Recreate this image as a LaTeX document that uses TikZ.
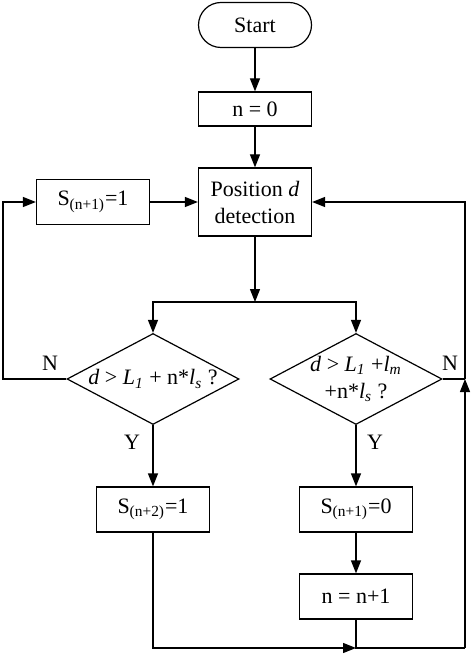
\documentclass[tikz,border=0pt]{standalone}
\usepackage{fontspec}
\setmainfont{Liberation Serif}
\usetikzlibrary{shapes.geometric,arrows.meta}

\begin{document}
\begin{tikzpicture}[x=0.5pt,y=-0.5pt]
        \tikzstyle{every node}=[font=\fontsize{11}{13.5}\selectfont,inner sep=0pt,align=center]
        \tikzstyle{proc}=[draw,line width=0.6pt,minimum width=56.5pt,minimum height=22.5pt]
        \tikzstyle{cond}=[draw,diamond,aspect=1.9,inner sep=-4pt,line width=0.6pt,minimum width=86pt,minimum height=45.5pt]
        \tikzstyle{flow}=[line width=0.6pt,-{Triangle[length=6.5pt,width=5pt]}]
        \tikzstyle{wire}=[line width=0.6pt]
        \useasboundingbox (0,0) rectangle (474,657);
        \node[draw,line width=0.6pt,rounded corners=11.25pt,minimum width=56.5pt,minimum height=22.5pt] (start) at (255,25) {Start};
        \node[proc,minimum height=17pt] (init) at (255,109) {n = 0};
        \node[proc,minimum height=34pt] (pos) at (255,202) {Position \textit{d}\\detection};
        \node[proc] (setone) at (93,202) {S\textsubscript{(n+1)}=1};
        \node[cond] (cl) at (153,379) {\textit{d} > \textit{L\textsubscript{1}} + n*\textit{l\textsubscript{s}} ?};
        \node[cond] (cr) at (356,379) {\textit{d} > \textit{L\textsubscript{1}} +\textit{l\textsubscript{m}}\\+n*\textit{l\textsubscript{s}} ?};
        \node[proc] (settwo) at (153,509.5) {S\textsubscript{(n+2)}=1};
        \node[proc] (setzero) at (356,509.5) {S\textsubscript{(n+1)}=0};
        \node[proc] (inc) at (356,596.5) {n = n+1};
        \node (nl) at (50,363) {N};
        \node (nr) at (450,363) {N};
        \node (yl) at (132,442) {Y};
        \node (yr) at (375,442) {Y};
        \coordinate (split) at (255,302);
        \coordinate (lback) at (3,379);
        \coordinate (rj) at (465,379);
        \coordinate (merge) at (356,648);
        \coordinate (br) at (465,648);
        \draw[flow] (start) -- (init);
        \draw[flow] (init) -- (pos);
        \draw[flow] (setone) -- (pos);
        \draw[flow] (pos) -- (split);
        \draw[flow] (split) -| (cl.north);
        \draw[flow] (split) -| (cr.north);
        \draw[flow] (cl.west) -- (lback) |- (setone.west);
        \draw[flow] (cl) -- (settwo);
        \draw[flow] (cr) -- (setzero);
        \draw[flow] (setzero) -- (inc);
        \draw[flow] (settwo) |- (merge);
        \draw[wire] (inc) -- (merge) -- (br);
        \draw[flow] (br) -- (rj);
        \draw[wire] (cr.east) -- (rj);
        \draw[flow] (rj) |- (pos.east);
\end{tikzpicture}
\end{document}
